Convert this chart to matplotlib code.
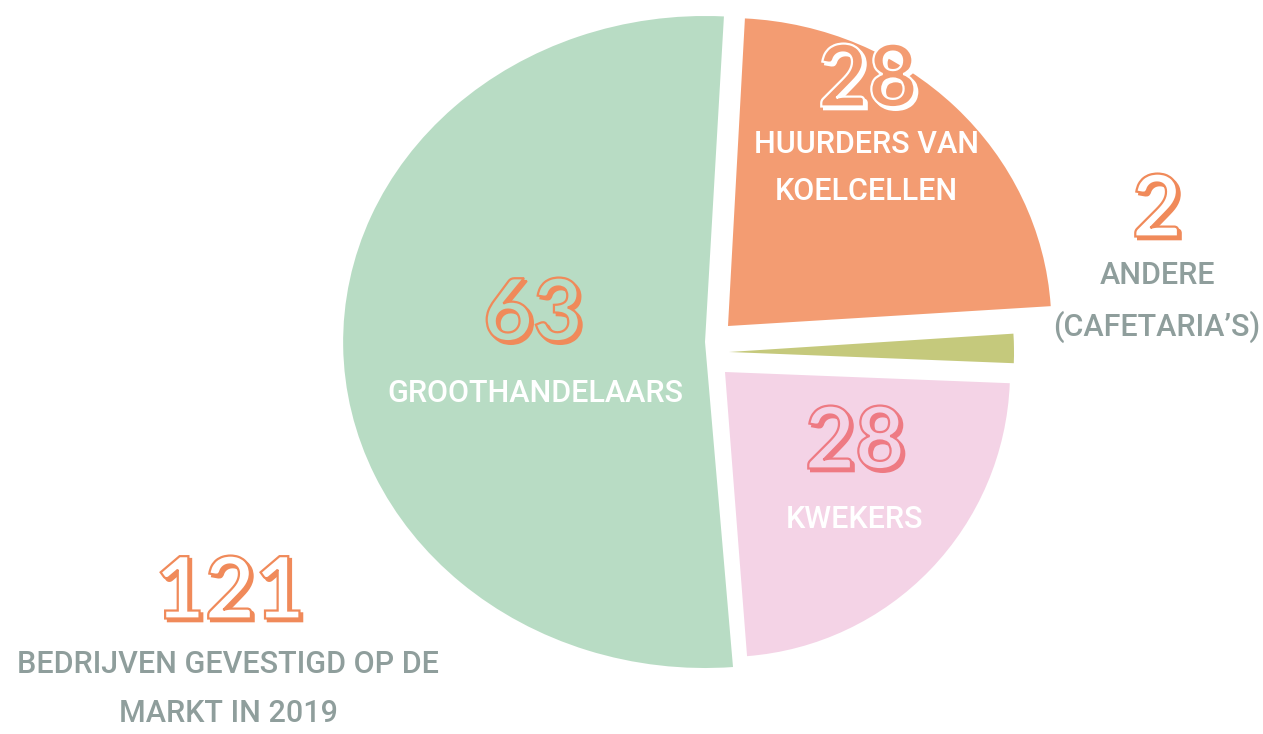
import numpy as np
import matplotlib.pyplot as plt
import matplotlib.patheffects as pe
from matplotlib.transforms import Affine2D

W, H = 1263, 734

labels = ["GROOTHANDELAARS", "KWEKERS", "ANDERE\n(CAFETARIA\u2019S)", "HUURDERS VAN\nKOELCELLEN"]
values = [63, 28, 2, 28]
total = 121
total_label = "BEDRIJVEN GEVESTIGD OP DE\nMARKT IN 2019"

colors = ["#b8dcc4", "#f4d3e6", "#c5c97c", "#f39c72"]
accents = ["#f08a5a", "#ee7a83", "#f08a5a", "#ffffff"]
gray = "#8f9e9c"
orange = "#f08a5a"


def py(y):
    # pixel row -> data y
    return H - y


def big_number(ax, x, y, txt, accent, bg, size=62):
    ax.text(x, py(y), txt, ha="center", va="center", fontsize=size,
            family="Lato", weight="bold", color=bg,
            path_effects=[
                pe.PathPatchEffect(offset=(2, -2), facecolor=accent,
                                   edgecolor=accent, linewidth=1.5),
                pe.PathPatchEffect(facecolor=bg, edgecolor=accent, linewidth=1.6),
            ])


def label(ax, x, y, txt, color, size=22, spacing=1.85):
    ax.text(x, py(y), txt, ha="center", va="center", fontsize=size,
            family=["Roboto", "DejaVu Sans"], weight="medium", color=color,
            linespacing=spacing)


def stretch(patch, cx, cy, sx, sy=1.0):
    patch.set_transform(Affine2D().translate(-cx, -cy).scale(sx, sy)
                        .translate(cx, cy) + ax.transData)


fig = plt.figure(figsize=(W / 100, H / 100), dpi=100)
ax = fig.add_axes([0, 0, 1, 1])

wedges, _ = ax.pie(values, colors=colors, startangle=87, counterclock=True,
                   center=(717, py(349)), radius=300,
                   wedgeprops=dict(linewidth=0))

# hand-placed tips of the exploded wedges (pixel coords)
tips = [(705, 342), (725, 372), (729, 352), (728, 326)]
radii = [326, 285, 285, 308]
for w, (tx, ty), r in zip(wedges, tips, radii):
    w.set_center((tx, py(ty)))
    w.set_radius(r)

# hand-drawn shapes are a bit wider than tall
stretch(wedges[0], tips[0][0], py(tips[0][1]), 1.11)
stretch(wedges[3], tips[3][0], py(tips[3][1]), 1.05)

ax.set_xlim(0, W)
ax.set_ylim(0, H)
ax.set_aspect("auto")
ax.axis("off")

# groothandelaars
big_number(ax, 533, 316, str(values[0]), accents[0], colors[0])
label(ax, 535, 393, labels[0], "white")
# huurders
big_number(ax, 868, 82, str(values[3]), accents[3], colors[3])
label(ax, 866, 168, labels[3], "white", spacing=1.75)
# andere
big_number(ax, 1157, 212, str(values[2]), accents[2], "white")
label(ax, 1157, 302, labels[2], gray)
# kwekers
big_number(ax, 855, 444, str(values[1]), accents[1], colors[1])
label(ax, 855, 520, labels[1], "white")
# total
big_number(ax, 230, 594, str(total), orange, "white")
label(ax, 228, 689, total_label, gray)

fig.savefig("out.png", dpi=100)
